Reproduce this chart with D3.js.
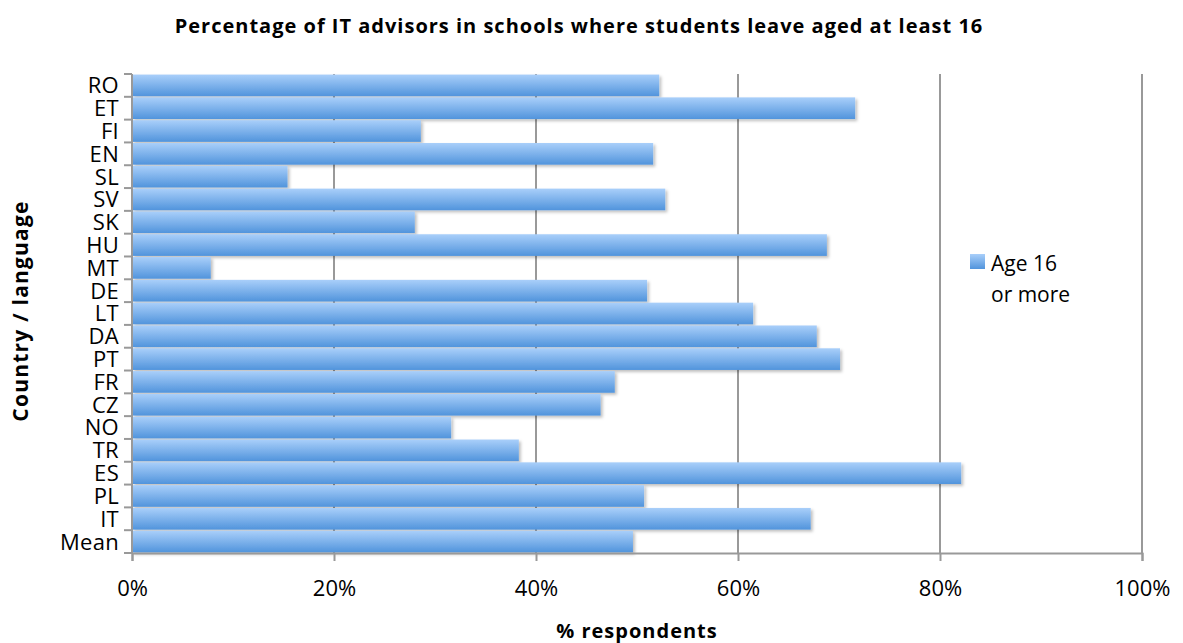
<!DOCTYPE html>
<html>
<head>
<meta charset="utf-8">
<script src="https://cdn.jsdelivr.net/npm/d3@7"></script>
<style>
  body { margin: 0; background: #fff; }
  text { font-family: "Open Sans", Lato, sans-serif; fill: #000; }
</style>
</head>
<body>
<div id="container"></div>
<script>
// categories top to bottom
var categories = ["RO", "ET", "FI", "EN", "SL", "SV", "SK", "HU", "MT", "DE", "LT",
  "DA", "PT", "FR", "CZ", "NO", "TR", "ES", "PL", "IT", "Mean"];
var values = [52.2, 71.6, 28.6, 51.6, 15.4, 52.8, 28.0, 68.8, 7.8, 51.0, 61.5,
  67.8, 70.1, 47.8, 46.4, 31.6, 38.3, 82.1, 50.7, 67.2, 49.6];
var xTicks = [0, 20, 40, 60, 80, 100];
var seriesName = ["Age 16", "or more"];

var width = 1183,
  height = 643,
  margin = { top: 74, right: 41, bottom: 90, left: 132 },
  graphWidth = width - margin.left - margin.right,
  graphHeight = height - margin.top - margin.bottom;

var svg = d3.select("#container").append("svg")
  .attr("width", width)
  .attr("height", height);

var defs = svg.append("defs");
var grad = defs.append("linearGradient")
  .attr("id", "barGrad")
  .attr("x1", 0).attr("y1", 0).attr("x2", 0).attr("y2", 1);
grad.append("stop").attr("offset", "0%").attr("stop-color", "#a9cffa");
grad.append("stop").attr("offset", "100%").attr("stop-color", "#5194dc");

var shadow = defs.append("filter").attr("id", "shadow")
  .attr("x", "-5%").attr("y", "-20%").attr("width", "115%").attr("height", "160%");
shadow.append("feDropShadow")
  .attr("dx", 2).attr("dy", 2).attr("stdDeviation", 1.5)
  .attr("flood-color", "#000").attr("flood-opacity", 0.25);

var g = svg.append("g")
  .attr("transform", "translate(" + margin.left + "," + margin.top + ")");

var xScale = d3.scaleLinear().domain([0, 100]).range([0, graphWidth]);
var yScale = d3.scaleBand().domain(categories).range([0, graphHeight])
  .paddingInner(0.05).paddingOuter(0.025);

// gridlines
g.append("g")
  .attr("class", "grid")
  .selectAll("line")
  .data(xTicks.slice(1))
  .join("line")
  .attr("x1", (d) => xScale(d))
  .attr("x2", (d) => xScale(d))
  .attr("y1", 0)
  .attr("y2", graphHeight)
  .style("stroke", "#999")
  .style("stroke-width", 2);

// bars
g.append("g")
  .attr("class", "bars")
  .selectAll("rect")
  .data(values)
  .join("rect")
  .attr("x", 0)
  .attr("y", (d, i) => yScale(categories[i]))
  .attr("width", (d) => xScale(d))
  .attr("height", yScale.bandwidth())
  .style("fill", "url(#barGrad)")
  .style("filter", "url(#shadow)");

// y axis: ticks at band boundaries
var boundaries = categories.map((c) => yScale(c) - yScale.step() * yScale.paddingInner() / 2);
boundaries.push(graphHeight);
var gY = g.append("g").attr("class", "axis y-axis");
gY.append("line")
  .attr("x1", 0).attr("x2", 0).attr("y1", 0).attr("y2", graphHeight)
  .style("stroke", "#999").style("stroke-width", 2);
gY.selectAll(".ytick")
  .data(boundaries)
  .join("line")
  .attr("class", "ytick")
  .attr("x1", -8).attr("x2", 0)
  .attr("y1", (d) => d).attr("y2", (d) => d)
  .style("stroke", "#999").style("stroke-width", 2);
gY.selectAll(".ylabel")
  .data(categories)
  .join("text")
  .attr("class", "ylabel")
  .attr("x", -13)
  .attr("y", (d) => yScale(d) + yScale.bandwidth() / 2)
  .attr("dy", "0.36em")
  .attr("text-anchor", "end")
  .style("font-size", "22px")
  .style("letter-spacing", "0.3px")
  .text((d) => d);

// x axis
var xAxis = d3.axisBottom(xScale)
  .tickValues(xTicks)
  .tickFormat((d) => d + "%")
  .tickSize(8)
  .tickPadding(19);
var gX = g.append("g")
  .attr("class", "axis x-axis")
  .attr("transform", "translate(0," + graphHeight + ")")
  .call(xAxis);
gX.select("path.domain").style("stroke", "#999").style("stroke-width", 2);
gX.selectAll(".tick line").style("stroke", "#999").style("stroke-width", 2);
gX.selectAll(".tick text")
  .style("font-size", "22px")
  .style("font-family", "'Open Sans', Lato, sans-serif")
  .attr("fill", "#000");

// titles
svg.append("text")
  .attr("x", 579)
  .attr("y", 33)
  .attr("text-anchor", "middle")
  .style("font-size", "20px")
  .style("letter-spacing", "1px")
  .style("font-weight", "bold")
  .text("Percentage of IT advisors in schools where students leave aged at least 16");

svg.append("text")
  .attr("x", 637)
  .attr("y", 638)
  .attr("text-anchor", "middle")
  .style("font-size", "20px")
  .style("letter-spacing", "1px")
  .style("font-weight", "bold")
  .text("% respondents");

svg.append("text")
  .attr("transform", "translate(28," + 311 + ") rotate(-90)")
  .attr("text-anchor", "middle")
  .style("font-size", "21px")
  .style("letter-spacing", "1.2px")
  .style("font-weight", "bold")
  .text("Country / language");

// legend
var legend = svg.append("g").attr("class", "legend")
  .attr("transform", "translate(970,254)");
legend.append("rect")
  .attr("width", 15).attr("height", 15)
  .style("fill", "url(#barGrad)");
legend.selectAll("text")
  .data(seriesName)
  .join("text")
  .attr("x", 21)
  .attr("y", (d, i) => 17 + i * 31)
  .style("font-size", "21px")
  .text((d) => d);
</script>
</body>
</html>
